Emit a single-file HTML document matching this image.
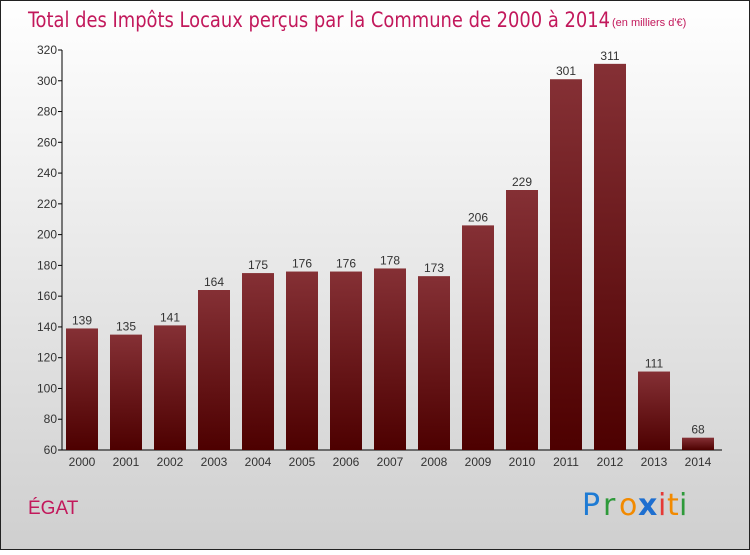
<!DOCTYPE html>
<html><head><meta charset="utf-8"><style>
body{margin:0;width:750px;height:550px;overflow:hidden;font-family:"Liberation Sans",sans-serif}
</style></head><body>
<svg width="750" height="550" xmlns="http://www.w3.org/2000/svg">
<defs>
<linearGradient id="bg" x1="0" y1="0" x2="0" y2="1"><stop offset="0" stop-color="#ffffff"/><stop offset="1" stop-color="#cfcfcf"/></linearGradient>
<linearGradient id="bar" x1="0" y1="0" x2="0" y2="1"><stop offset="0" stop-color="#853035"/><stop offset="1" stop-color="#4d0000"/></linearGradient>
</defs>
<rect x="0.5" y="0.5" width="749" height="549" fill="url(#bg)" stroke="#222"/>
<text x="28" y="27" font-size="21" fill="#c2185b" textLength="582" lengthAdjust="spacingAndGlyphs" font-family="'DejaVu Sans Condensed','Liberation Sans',sans-serif" font-weight="200">Total des Impôts Locaux perçus par la Commune de 2000 à 2014</text>
<text x="612" y="26" font-size="11" fill="#c2185b">(en milliers d'€)</text>
<g id="axes"></g>
<g id="bars"></g>
<text x="28" y="514" font-size="19" fill="#c2185b">ÉGAT</text>
<g font-size="30" font-family="'DejaVu Sans',sans-serif">
<text x="582" y="515" fill="#1e7bd4">P</text><text x="603" y="515" fill="#2e9a3a">r</text><text x="619" y="515" fill="#f28a00">o</text><text x="638" y="515" fill="#1e6fd0" font-weight="bold">x</text><text x="658" y="515" fill="#e53935">i</text><text x="667" y="515" fill="#f28a00">t</text><text x="679" y="515" fill="#2e9a3a">i</text>
</g>
</svg>
<script>
const years=["2000","2001","2002","2003","2004","2005","2006","2007","2008","2009","2010","2011","2012","2013","2014"];
const values=[139,135,141,164,175,176,176,178,173,206,229,301,311,111,68];
const yTicks=[60,80,100,120,140,160,180,200,220,240,260,280,300,320];
const NS="http://www.w3.org/2000/svg";
const yMin=60,yMax=320,yTopPx=50,yBotPx=450,x0=62,step=44,first=82,bw=32;
const yScale=v=>yBotPx-(v-yMin)/(yMax-yMin)*(yBotPx-yTopPx);
const xc=i=>first+i*step;
function mk(t,a,p){const e=document.createElementNS(NS,t);for(const k in a)e.setAttribute(k,a[k]);p.appendChild(e);return e;}
const ax=document.getElementById('axes'),bg=document.getElementById('bars');
const yl=mk('line',{x1:x0,y1:yTopPx,x2:x0,y2:yBotPx,stroke:'#000'},ax);


const xl=mk('line',{x1:x0,y1:yBotPx,x2:722,y2:yBotPx,stroke:'#000'},ax);


yTicks.forEach(v=>{
 mk('line',{x1:x0-4,y1:yScale(v),x2:x0,y2:yScale(v),stroke:'#000'},ax);
 const t=mk('text',{x:x0-5,y:yScale(v)+4,'font-size':12,fill:'#333','text-anchor':'end'},ax);t.textContent=v;
 
 
});
years.forEach((yr,i)=>{
 const v=values[i];
 const r=mk('rect',{x:xc(i)-bw/2,y:yScale(v),width:bw,height:yBotPx-yScale(v),fill:'url(#bar)'},bg);
 
 
 const l=mk('text',{x:xc(i),y:yScale(v)-4,'font-size':12,fill:'#333','text-anchor':'middle'},bg);l.textContent=v;
 
 
 const t=mk('text',{x:xc(i),y:yBotPx+16,'font-size':12,fill:'#333','text-anchor':'middle'},ax);t.textContent=yr;
 
 
});
</script>
</body></html>
